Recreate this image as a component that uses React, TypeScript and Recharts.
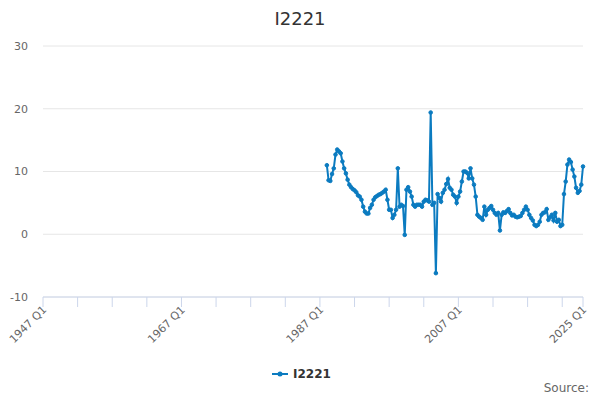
import React from "react";
import { CartesianGrid, Line, LineChart, XAxis, YAxis } from "recharts";

const FONT = "'DejaVu Sans', 'Liberation Sans', Arial, sans-serif";
const COLOR = "#0b7bc0";

// quarter index 0 = 1947 Q1
const FIRST_INDEX = 164; // 1988 Q1
const LAST_INDEX = 312; // 2025 Q1

const VALUES: number[] = [
  11.0, 8.6, 8.5, 9.6, 10.5, 12.7, 13.5, 13.2, 12.9, 11.6, 10.5, 9.7, 8.7, 7.9, 7.5, 7.2,
  7.0, 6.7, 6.2, 6.0, 5.5, 4.4, 3.6, 3.3, 3.3, 4.2, 4.7, 5.5, 5.9, 6.1, 6.3, 6.4,
  6.6, 6.8, 7.1, 5.5, 3.9, 3.9, 2.6, 3.1, 3.9, 10.5, 4.4, 4.7, 4.5, -0.1, 7.1, 7.5,
  6.8, 6.0, 4.7, 4.4, 4.7, 4.7, 4.7, 4.4, 5.2, 5.5, 5.4, 5.2, 19.4, 4.7, 5.0, -6.2,
  6.4, 5.8, 5.2, 6.6, 7.1, 8.0, 8.8, 7.4, 7.1, 6.3, 6.0, 5.0, 6.0, 6.8, 8.4, 10.0,
  10.0, 9.8, 8.9, 10.5, 8.9, 7.9, 6.0, 3.1, 2.8, 2.6, 2.3, 4.4, 3.1, 3.9, 4.2, 4.5,
  3.9, 3.4, 3.1, 3.4, 0.6, 3.1, 3.5, 3.4, 3.7, 4.0, 3.4, 3.0, 3.1, 2.8, 2.7, 2.8,
  2.9, 3.4, 3.9, 4.4, 3.9, 3.1, 2.6, 2.2, 1.5, 1.3, 1.5, 2.0, 3.1, 3.4, 3.5, 4.0,
  2.3, 2.7, 3.1, 2.2, 3.4, 2.0, 2.3, 1.3, 1.5, 6.4, 8.4, 11.1, 11.9, 11.5, 10.3, 9.2,
  7.4, 6.6, 6.9, 7.9, 10.8,
];

const X_TICKS = [0, 20, 40, 60, 80, 100, 120, 140, 160, 180, 200, 220, 240, 260, 280, 300, 312];
const X_LABELED = [0, 80, 160, 240, 312];
const Y_TICKS = [-10, 0, 10, 20, 30];

const quarterLabel = (i: number) => `${1947 + Math.floor(i / 4)} Q${(i % 4) + 1}`;

const data = VALUES.map((v, k) => ({ i: FIRST_INDEX + k, v }));

function XTick({ x, y, payload }: any) {
  if (!X_LABELED.includes(payload.value)) return null;
  return (
    <text
      x={x}
      y={y}
      transform={`rotate(-45 ${x} ${y})`}
      textAnchor="end"
      fontSize={11}
      fill="#666"
      fontFamily={FONT}
      dy={4}
      dx={2}
    >
      {quarterLabel(payload.value)}
    </text>
  );
}

export default function App() {
  return (
    <div style={{ position: "absolute", left: 0, top: 0, width: 600, height: 400, background: "#fff", fontFamily: FONT }}>
      <div style={{ position: "absolute", top: 8, width: 600, textAlign: "center", fontSize: 18, color: "#333" }}>
        I2221
      </div>
      <LineChart width={600} height={400} data={data} margin={{ top: 46, right: 17, bottom: 43, left: 8 }}>
        <CartesianGrid vertical={false} stroke="#e6e6e6" />
        <XAxis
          type="number"
          dataKey="i"
          domain={[0, LAST_INDEX]}
          ticks={X_TICKS}
          interval={0}
          tick={<XTick />}
          tickSize={10}
          height={60}
          axisLine={{ stroke: "#ccd6eb" }}
          tickLine={{ stroke: "#ccd6eb" }}
        />
        <YAxis
          domain={[-10, 30]}
          ticks={Y_TICKS}
          width={35}
          axisLine={false}
          tickLine={false}
          tickMargin={9}
          tick={{ fontSize: 11, fill: "#666", fontFamily: FONT }}
        />
        <Line
          dataKey="v"
          stroke={COLOR}
          strokeWidth={2}
          dot={{ r: 1.8, fill: COLOR, stroke: COLOR, strokeWidth: 1 }}
          isAnimationActive={false}
        />
      </LineChart>
      <div style={{ position: "absolute", top: 366, left: 271, display: "flex", alignItems: "center" }}>
        <svg width={18} height={16}>
          <line x1={1} y1={8} x2={17} y2={8} stroke={COLOR} strokeWidth={2} />
          <circle cx={9} cy={8} r={2.5} fill={COLOR} />
        </svg>
        <span style={{ fontSize: 12, fontWeight: "bold", color: "#333", marginLeft: 4 }}>I2221</span>
      </div>
      <div style={{ position: "absolute", top: 381, right: 11, fontSize: 12, color: "#666" }}>Source:</div>
    </div>
  );
}
